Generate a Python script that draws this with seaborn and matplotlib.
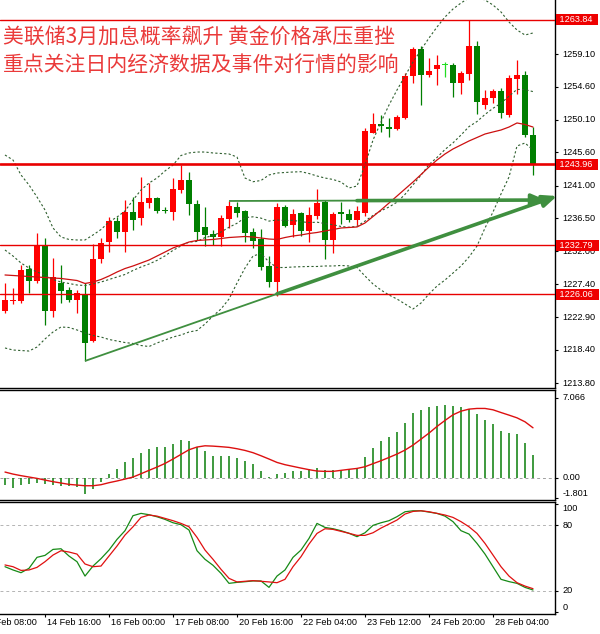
import matplotlib
matplotlib.use("Agg")
import matplotlib.pyplot as plt
import matplotlib.transforms as mtransforms
import numpy as np
import seaborn as sns

# H4 gold candles (oldest first)
opens = [1223.79, 1225.06, 1225.17, 1229.53, 1227.92, 1232.84, 1223.79, 1227.57, 1226.64, 1225.27,
         1226.09, 1219.62, 1230.87, 1233.29, 1236.14, 1234.67, 1237.42, 1236.51, 1238.66, 1239.35,
         1237.59, 1237.42, 1240.41, 1241.79, 1238.44, 1235.36, 1234.35, 1233.98, 1236.42, 1238.03,
         1237.52, 1234.67, 1233.62, 1229.95, 1227.79, 1238.11, 1235.59, 1237.20, 1234.77, 1236.83,
         1238.80, 1233.53, 1237.42, 1237.11, 1236.28, 1237.29, 1248.30, 1249.50, 1249.13, 1248.77,
         1250.28, 1256.11, 1259.82, 1256.24, 1257.03, 1257.62, 1257.62, 1255.10, 1256.38, 1260.24,
         1252.11, 1253.04, 1254.04, 1250.74, 1255.69, 1256.24, 1247.98]
highs = [1227.57, 1226.92, 1230.08, 1230.08, 1234.45, 1233.80, 1231.05, 1230.08, 1227.10, 1226.64,
         1227.57, 1232.94, 1233.76, 1236.73, 1236.73, 1239.03, 1239.49, 1242.24, 1241.33, 1239.49,
         1238.11, 1242.02, 1243.85, 1242.93, 1239.03, 1238.03, 1234.90, 1236.97, 1238.90, 1238.80,
         1237.66, 1235.14, 1235.00, 1231.32, 1238.58, 1238.35, 1237.75, 1237.42, 1238.03, 1240.51,
         1239.03, 1237.42, 1238.80, 1237.75, 1238.21, 1248.95, 1250.97, 1250.74, 1250.28, 1250.74,
         1256.56, 1260.14, 1260.17, 1258.54, 1259.00, 1258.08, 1257.85, 1256.86, 1263.84, 1260.93,
         1254.18, 1254.34, 1254.41, 1256.24, 1258.31, 1256.79, 1249.08]
lows = [1223.43, 1224.72, 1224.81, 1226.19, 1227.57, 1221.82, 1222.97, 1224.89, 1225.03, 1223.52,
        1216.87, 1219.44, 1230.32, 1231.92, 1233.76, 1231.92, 1234.90, 1235.59, 1237.89, 1237.20,
        1237.20, 1236.28, 1239.96, 1236.97, 1233.53, 1232.70, 1232.84, 1232.70, 1235.14, 1236.73,
        1233.29, 1232.38, 1229.40, 1227.10, 1225.82, 1235.28, 1233.90, 1234.08, 1233.29, 1236.38,
        1230.91, 1231.70, 1235.73, 1236.05, 1235.59, 1236.83, 1248.22, 1248.44, 1247.67, 1248.67,
        1250.14, 1255.10, 1252.18, 1256.01, 1254.87, 1255.90, 1253.22, 1253.63, 1255.56, 1250.81,
        1251.63, 1252.35, 1250.28, 1250.50, 1253.56, 1247.64, 1242.41]
closes = [1225.27, 1225.27, 1229.40, 1227.92, 1232.84, 1223.79, 1228.47, 1226.55, 1225.27, 1226.19,
          1219.30, 1230.91, 1233.16, 1236.14, 1234.67, 1237.42, 1236.28, 1238.80, 1239.27, 1237.52,
          1237.52, 1240.51, 1241.79, 1238.44, 1234.67, 1234.22, 1233.98, 1236.51, 1238.21, 1237.29,
          1234.53, 1233.43, 1229.77, 1227.79, 1238.03, 1235.45, 1237.11, 1234.81, 1236.97, 1238.66,
          1233.53, 1237.11, 1237.11, 1236.28, 1237.56, 1248.53, 1249.50, 1249.22, 1248.77, 1250.50,
          1256.11, 1259.82, 1256.24, 1256.79, 1257.62, 1257.60, 1255.10, 1256.52, 1260.24, 1252.57,
          1253.04, 1254.04, 1250.97, 1255.83, 1256.24, 1247.98, 1243.85]

# red moving average and bollinger bands
ma_slow = [1228.71, 1228.64, 1228.57, 1228.50, 1228.43, 1228.36, 1228.30, 1228.23, 1228.09, 1227.95,
           1227.54, 1227.74, 1228.09, 1228.57, 1229.12, 1229.60, 1229.95, 1230.36, 1230.77, 1231.32,
           1231.87, 1232.43, 1232.84, 1233.25, 1233.46, 1233.53, 1233.60, 1233.73, 1233.87, 1233.94,
           1234.01, 1233.94, 1233.80, 1233.66, 1233.60, 1233.87, 1234.08, 1234.22, 1234.42, 1234.56,
           1234.77, 1234.97, 1235.18, 1235.25, 1235.32, 1235.87, 1236.76, 1237.66, 1238.62, 1239.58,
           1240.55, 1241.51, 1242.54, 1243.58, 1244.54, 1245.37, 1246.06, 1246.61, 1247.16, 1247.64,
           1248.12, 1248.40, 1248.67, 1249.08, 1249.64, 1249.43, 1249.08]
bb_mid = [1232.15, 1231.32, 1230.36, 1229.67, 1229.12, 1228.71, 1228.09, 1227.74, 1227.54, 1227.33,
          1227.26, 1227.47, 1227.74, 1228.09, 1228.43, 1228.78, 1229.33, 1229.81, 1230.22, 1230.72,
          1231.34, 1232.10, 1232.71, 1233.24, 1233.33, 1233.86, 1234.13, 1234.63, 1235.28, 1235.83,
          1236.60, 1236.72, 1236.54, 1236.13, 1236.29, 1236.20, 1236.24, 1236.05, 1235.92, 1235.98,
          1235.79, 1235.62, 1235.39, 1235.28, 1235.41, 1236.13, 1236.91, 1237.55, 1238.07, 1238.73,
          1239.81, 1241.13, 1242.45, 1243.91, 1244.89, 1245.99, 1246.90, 1247.98, 1249.14, 1249.84,
          1250.81, 1251.66, 1252.35, 1253.33, 1254.26, 1254.23, 1253.96]
bb_up = [1245.23, 1244.54, 1242.48, 1241.10, 1239.45, 1237.66, 1235.18, 1233.94, 1233.60, 1233.53,
         1233.53, 1234.22, 1234.97, 1236.01, 1236.69, 1237.52, 1239.03, 1240.41, 1241.37, 1242.06,
         1243.03, 1243.85, 1245.16, 1245.51, 1245.64, 1245.64, 1245.51, 1245.44, 1245.37, 1244.95,
         1242.06, 1241.55, 1241.72, 1242.48, 1242.75, 1242.82, 1242.89, 1242.93, 1242.68, 1242.34,
         1242.06, 1241.86, 1241.51, 1240.69, 1240.96, 1243.85, 1247.29, 1249.77, 1252.11, 1254.18,
         1256.11, 1258.03, 1259.69, 1261.34, 1262.85, 1264.23, 1265.33, 1266.16, 1266.85, 1266.98,
         1266.57, 1265.88, 1264.92, 1263.54, 1262.44, 1261.75, 1262.03]
bb_low = [1218.66, 1218.38, 1218.31, 1218.24, 1218.79, 1219.90, 1220.86, 1221.55, 1221.48, 1221.14,
          1220.72, 1220.38, 1220.17, 1219.83, 1219.62, 1219.41, 1219.28, 1219.00, 1218.86, 1219.35,
          1219.76, 1220.17, 1220.45, 1220.86, 1221.07, 1221.96, 1223.06, 1224.03, 1225.40, 1227.60,
          1229.67, 1231.32, 1231.67, 1230.50, 1229.74, 1229.74, 1229.81, 1229.85, 1229.88, 1229.88,
          1229.95, 1229.95, 1230.02, 1229.95, 1229.74, 1228.57, 1227.47, 1226.64, 1225.95, 1225.40,
          1224.72, 1224.03, 1224.85, 1226.09, 1227.19, 1228.02, 1228.98, 1229.95, 1231.19, 1232.70,
          1235.18, 1237.38, 1239.86, 1242.20, 1246.47, 1246.88, 1245.92]

# MACD
macd_hist = [-0.65, -0.88, -0.65, -0.59, -0.44, -0.59, -0.65, -0.71, -0.71, -0.79,
             -1.45, -1.00, -0.35, 0.29, 0.76, 1.35, 1.76, 2.15, 2.53, 2.71,
             2.71, 2.94, 3.32, 3.24, 2.74, 2.35, 1.94, 1.94, 1.91, 1.76,
             1.47, 1.18, 0.59, 0.03, 0.29, 0.38, 0.59, 0.59, 0.76, 0.88,
             0.68, 0.68, 0.68, 0.76, 0.82, 1.85, 2.65, 3.24, 3.62, 4.00,
             4.79, 5.68, 5.97, 6.24, 6.35, 6.41, 6.35, 6.24, 6.06, 5.59,
             5.09, 4.71, 4.12, 3.91, 3.82, 3.03, 2.00]
macd_signal = [0.50, 0.32, 0.18, 0.06, -0.06, -0.21, -0.35, -0.47, -0.59, -0.65,
               -0.71, -0.71, -0.62, -0.44, -0.29, -0.12, 0.06, 0.35, 0.65, 0.94,
               1.26, 1.65, 2.06, 2.47, 2.71, 2.82, 2.79, 2.74, 2.68, 2.56,
               2.41, 2.21, 1.94, 1.65, 1.35, 1.15, 1.00, 0.85, 0.71, 0.59,
               0.56, 0.56, 0.65, 0.74, 0.82, 0.97, 1.24, 1.50, 1.79, 2.09,
               2.44, 2.88, 3.41, 3.94, 4.53, 5.06, 5.56, 5.88, 6.06, 6.12,
               6.12, 6.00, 5.76, 5.53, 5.29, 4.94, 4.41]

# stochastic
stoch_k = [42.0, 39.0, 36.5, 40.5, 50.6, 52.4, 57.9, 58.5, 51.8, 46.6,
           33.4, 42.6, 49.4, 57.3, 67.1, 75.1, 88.9, 91.0, 89.8, 87.9,
           85.5, 82.4, 80.6, 75.7, 56.7, 48.8, 43.3, 35.9, 26.7, 27.6,
           28.2, 28.9, 28.9, 23.0, 33.4, 39.0, 50.6, 57.3, 68.0, 81.8,
           78.1, 76.9, 75.1, 72.7, 69.6, 73.2, 80.0, 82.4, 84.3, 88.0,
           92.5, 93.4, 93.4, 92.2, 91.0, 88.5, 83.4, 75.1, 72.0, 63.4,
           53.6, 42.0, 30.4, 28.3, 26.7, 23.0, 20.6]
stoch_d = [43.6, 42.0, 38.6, 39.0, 41.4, 46.6, 52.7, 56.7, 55.5, 53.6,
           44.5, 42.0, 42.6, 51.8, 61.0, 71.1, 78.7, 87.3, 89.5, 88.5,
           86.4, 84.3, 81.8, 78.7, 69.0, 57.3, 48.8, 39.6, 31.3, 28.0,
           28.6, 29.2, 28.6, 28.0, 27.3, 30.4, 42.0, 51.2, 62.8, 72.6,
           76.9, 76.3, 74.5, 72.7, 70.8, 70.8, 73.2, 77.5, 81.2, 84.9,
           90.4, 92.8, 93.4, 92.5, 91.0, 89.5, 87.3, 83.4, 78.7, 72.6,
           63.4, 52.7, 42.0, 33.4, 27.3, 24.2, 21.8]

price_ticks = [1259.10, 1254.60, 1250.10, 1245.60, 1241.00, 1236.50,
               1232.00, 1227.40, 1222.90, 1218.40, 1213.80]
levels = [1263.84, 1243.96, 1232.79, 1226.06]
level_widths = [1.0, 1.9, 1.0, 1.0]

time_ticks = [-3, 5, 13, 21, 29, 37, 45, 53, 61]
time_labels = ["13 Feb 08:00", "14 Feb 16:00", "16 Feb 00:00", "17 Feb 08:00", "20 Feb 16:00",
               "22 Feb 04:00", "23 Feb 12:00", "24 Feb 20:00", "28 Feb 04:00"]

# hand drawn trend arrows: start, where the stroke gets thick, tip
flat_x = [28, 44, 67.6]
flat_y = [1238.90, 1238.95, 1239.03]
rise_x = [10, 34, 69.0]
rise_y = [1216.87, 1226.11, 1239.58]

title_lines = ["美联储3月加息概率飙升 黄金价格承压重挫", "重点关注日内经济数据及事件对行情的影响"]


def main() -> None:
    sns.set_theme(style="white")
    plt.rcParams["font.family"] = ["Liberation Sans", "DejaVu Sans"]

    W, H = 600, 634
    fig = plt.figure(figsize=(W / 100, H / 100), dpi=100)
    fig.patch.set_facecolor("white")

    def panel(top, bottom):
        return fig.add_axes([0, 1 - bottom / H, 555 / W, (bottom - top) / H])

    ax = panel(0, 388)
    ax_macd = panel(390, 500)
    ax_st = panel(502, 614)

    idx = np.arange(len(closes))
    o, h, l, c = (np.array(v) for v in (opens, highs, lows, closes))
    doji = np.abs(c - o) < 0.05
    cols = np.where(doji, "#22dd22", np.where(c > o, "#ff0000", "#007f00"))

    # candles
    ax.vlines(idx, l, h, colors=cols, lw=0.9, zorder=2)
    ax.bar(idx, np.maximum(np.abs(c - o), 0.12), bottom=np.minimum(o, c), width=0.66,
           color=cols, linewidth=0, zorder=2.2)

    bb_col = "#2f5f2f"
    for band in (bb_up, bb_mid, bb_low):
        sns.lineplot(x=idx, y=band, ax=ax, color=bb_col, lw=0.8, linestyle=(0, (2, 2)),
                     estimator=None, errorbar=None, legend=False, zorder=3)
    sns.lineplot(x=idx, y=ma_slow, ax=ax, color="#cc1010", lw=0.9,
                 estimator=None, errorbar=None, legend=False, zorder=3.2)

    for lv, lw in zip(levels, level_widths):
        ax.axhline(lv, color="#e80000", lw=lw, zorder=3.5)

    arrow_col = "#3f8f3f"
    for xs, ys in ((flat_x, flat_y), (rise_x, rise_y)):
        ax.plot(xs[:2], ys[:2], color=arrow_col, lw=1.3, zorder=4, solid_capstyle="butt")
        ax.annotate("", xy=(xs[2], ys[2]), xytext=(xs[1], ys[1]),
                    arrowprops=dict(arrowstyle="-|>,head_length=0.7,head_width=0.3",
                                    mutation_scale=12, lw=2.6, color=arrow_col,
                                    shrinkA=0, shrinkB=0),
                    annotation_clip=False, zorder=4)

    ax.set_ylim(1213.15, 1266.57)

    # MACD panel
    ax_macd.axhline(0, color="#a0a0a0", lw=0.7, ls=(0, (3, 3)), zorder=1)
    ax_macd.vlines(idx, 0, macd_hist, colors="#0a7f0a", lw=1.1, zorder=2)
    sns.lineplot(x=idx, y=macd_signal, ax=ax_macd, color="#dd1010", lw=1.0,
                 estimator=None, errorbar=None, legend=False, zorder=3)
    ax_macd.set_ylim(-1.97, 7.75)

    # Stochastic panel
    for lv in (80, 20):
        ax_st.axhline(lv, color="#b4b4b4", lw=0.7, ls=(0, (3, 3)), zorder=1)
    sns.lineplot(x=idx, y=stoch_k, ax=ax_st, color="#168a16", lw=0.9,
                 estimator=None, errorbar=None, legend=False, zorder=3)
    sns.lineplot(x=idx, y=stoch_d, ax=ax_st, color="#e01010", lw=0.9,
                 estimator=None, errorbar=None, legend=False, zorder=3)
    ax_st.set_ylim(-1.47, 101.47)

    def right_axis(a, values, texts, aligns=None):
        a.yaxis.tick_right()
        a.set_yticks(values)
        a.set_yticklabels([])
        a.tick_params(axis="y", which="both", direction="out", length=2.5, width=0.8,
                      colors="black", right=True, left=False)
        tr = (mtransforms.blended_transform_factory(a.transAxes, a.transData)
              + mtransforms.ScaledTranslation(0.075, 0, fig.dpi_scale_trans))
        for k, (v, t) in enumerate(zip(values, texts)):
            va = aligns[k] if aligns else "center"
            a.text(1, v, t, transform=tr, ha="left", va=va, fontsize=6.6,
                   color="black", clip_on=False, zorder=6)

    right_axis(ax, price_ticks, [f"{p:.2f}" for p in price_ticks])
    right_axis(ax_macd, [7.066, 0, -1.801], ["7.066", "0.00", "-1.801"],
               ["center", "center", "bottom"])
    right_axis(ax_st, [100, 80, 20, 0], ["100", "80", "20", "0"],
               ["top", "center", "center", "bottom"])

    box_tr = (mtransforms.blended_transform_factory(ax.transAxes, ax.transData)
              + mtransforms.ScaledTranslation(0.02, 0, fig.dpi_scale_trans))
    for lv in levels:
        ax.text(1, lv, f" {lv:.2f}  ", transform=box_tr, ha="left", va="center",
                fontsize=6.6, color="white", clip_on=False, zorder=10,
                bbox=dict(boxstyle="square,pad=0.12", fc="#ee0000", ec="none"))

    for a in (ax, ax_macd, ax_st):
        a.set_xlim(-0.625, 68.75)
        a.set_xlabel("")
        a.set_ylabel("")
        a.set_facecolor("white")
        a.grid(False)
        for s in a.spines.values():
            s.set_color("black")
            s.set_linewidth(1.0)
        a.spines["left"].set_visible(False)
    ax.spines["top"].set_visible(False)

    ax.set_xticks([])
    ax_macd.set_xticks([])
    ax_st.set_xticks(time_ticks[1:])
    ax_st.set_xticklabels([])
    ax_st.tick_params(axis="x", bottom=True, direction="out", length=2.5, width=0.8,
                      colors="black")
    for t, lab in zip(time_ticks, time_labels):
        ax_st.annotate(lab, xy=(t, 0), xycoords=("data", "axes fraction"),
                       xytext=(1.2, -6), textcoords="offset points", ha="left",
                       va="center", fontsize=6.6, color="black", annotation_clip=False)

    for k, line in enumerate(title_lines):
        fig.text(3 / W, 1 - (38 + 26.5 * k) / H, line, color="#ea3a3a", fontsize=15,
                 fontweight="light", family=["Noto Sans CJK SC", "DejaVu Sans"],
                 ha="left", va="center", zorder=20)

    fig.savefig("out.png", dpi=100, facecolor="white")


if __name__ == "__main__":
    main()
